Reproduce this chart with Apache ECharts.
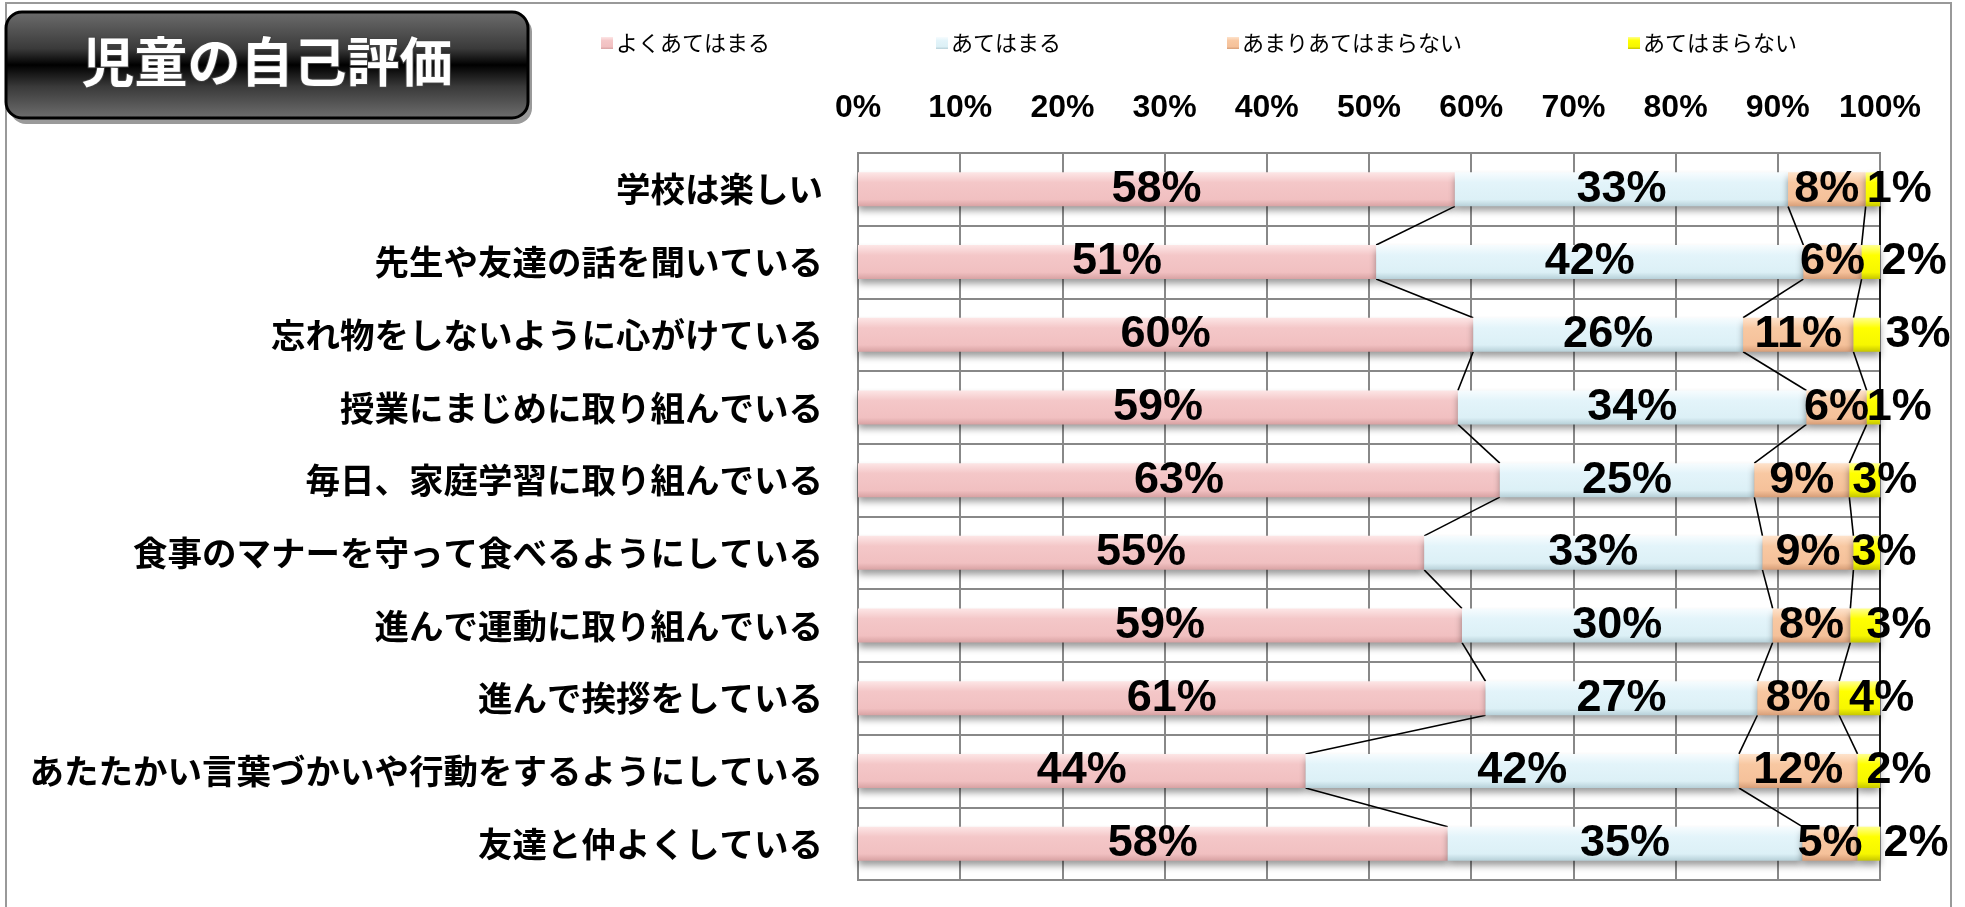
<!DOCTYPE html>
<html style="height: 100%">
<head>
<meta charset="utf-8">
</head>
<body style="height: 100%; margin: 0; background: #fff">
<div id="container" style="width: 1965px; height: 907px"></div>
<script src="https://cdn.jsdelivr.net/npm/echarts@6/dist/echarts.min.js"></script>
<script type="text/javascript">
var categories = [
  '学校は楽しい',
  '先生や友達の話を聞いている',
  '忘れ物をしないように心がけている',
  '授業にまじめに取り組んでいる',
  '毎日、家庭学習に取り組んでいる',
  '食事のマナーを守って食べるようにしている',
  '進んで運動に取り組んでいる',
  '進んで挨拶をしている',
  'あたたかい言葉づかいや行動をするようにしている',
  '友達と仲よくしている'
];
var seriesNames = ['よくあてはまる', 'あてはまる', 'あまりあてはまらない', 'あてはまらない'];
// percentages (labels show them rounded)
var veryTrue   = [58.4, 50.7, 60.2, 58.7, 62.8, 55.4, 59.1, 61.4, 43.8, 57.7];
var fairlyTrue = [32.6, 41.8, 26.4, 34.1, 24.9, 33.1, 30.4, 26.6, 42.4, 34.7];
var notReally  = [7.6, 5.7, 10.8, 5.9, 9.3, 8.9, 7.6, 8.0, 11.6, 5.4];
var notTrue    = [1.4, 1.8, 2.6, 1.3, 3.0, 2.6, 2.9, 4.0, 2.2, 2.2];
var xTicks = [0, 10, 20, 30, 40, 50, 60, 70, 80, 90, 100];

// where the small yellow labels sit (px right of the segment start)
var yellowShift = [1, 20, 32, 0, 3, -2, 16, 10, 9, 26];

var barWidth = 34;
var numFont = '"Liberation Sans", Arial, sans-serif';
var jpFont = '"Noto Sans CJK JP", sans-serif';

function grad(c0, c1, c2, c3) {
  return new echarts.graphic.LinearGradient(0, 0, 0, 1, [
    {offset: 0, color: c0},
    {offset: 0.3, color: c1},
    {offset: 0.8, color: c2},
    {offset: 1, color: c3}
  ]);
}
var colors = [
  grad('#fde6e6', '#f4c7c8', '#f1c0c1', '#d8a2a3'),
  grad('#f7fcfe', '#e3f4fa', '#dcf0f6', '#b7d0d8'),
  grad('#fee3cc', '#f8c8a2', '#f5c19a', '#d79e78'),
  grad('#ffff90', '#ffff00', '#f6f600', '#c6c600')
];

var dom = document.getElementById('container');
var chart = echarts.init(dom);

var values = [veryTrue, fairlyTrue, notReally, notTrue];

// cumulative ends of each segment for the series lines
var lineData = [];
var cum = categories.map(function () { return 0; });
values.forEach(function (arr) {
  cum = cum.map(function (c, i) { return c + arr[i]; });
  for (var k = 0; k < categories.length - 1; k++) {
    lineData.push([cum[k], k, cum[k + 1], k + 1]);
  }
});

var series = values.map(function (arr, s) {
  return {
    name: seriesNames[s],
    type: 'bar',
    stack: 'total',
    barWidth: barWidth,
    itemStyle: {
      color: colors[s],
      shadowColor: 'rgba(0,0,0,0.4)',
      shadowBlur: 7,
      shadowOffsetY: 5
    },
    label: {
      show: true,
      position: s === 3 ? 'insideLeft' : 'inside',
      distance: 0,
      color: '#000',
      fontFamily: numFont,
      fontWeight: 'bold',
      fontSize: 45,
      formatter: function (p) { return Math.round(p.value) + '%'; }
    },
    data: arr.map(function (v, i) {
      if (s !== 3) return v;
      return {value: v, label: {offset: [yellowShift[i], 0]}};
    })
  };
});

series.push({
  type: 'custom',
  silent: true,
  z: 1,
  encode: {x: [0, 2], y: [1, 3]},
  renderItem: function (params, api) {
    var p1 = api.coord([api.value(0), api.value(1)]);
    var p2 = api.coord([api.value(2), api.value(3)]);
    var h = barWidth / 2;
    return {
      type: 'line',
      shape: {x1: p1[0], y1: p1[1] + h, x2: p2[0], y2: p2[1] - h},
      style: {stroke: '#000', lineWidth: 1.6}
    };
  },
  data: lineData
});

var option = {
  animation: false,
  backgroundColor: '#fff',
  legend: {
    data: seriesNames,
    left: 596,
    top: 27,
    itemWidth: 12,
    itemHeight: 12,
    itemGap: 166,
    icon: 'rect',
    textStyle: {fontFamily: jpFont, fontSize: 22, color: '#000', padding: [0, 0, 0, -2]}
  },
  grid: {
    left: 858,
    right: 85,
    top: 153,
    bottom: 27,
    show: true,
    borderColor: '#888',
    borderWidth: 2
  },
  xAxis: {
    type: 'value',
    position: 'top',
    min: xTicks[0],
    max: xTicks[xTicks.length - 1],
    interval: xTicks[1] - xTicks[0],
    axisLine: {show: false},
    axisTick: {show: false},
    axisLabel: {
      formatter: '{value}%',
      color: '#000',
      fontFamily: numFont,
      fontWeight: 'bold',
      fontSize: 32,
      margin: 29
    },
    splitLine: {lineStyle: {color: '#888', width: 2}}
  },
  yAxis: {
    type: 'category',
    inverse: true,
    data: categories,
    axisLine: {lineStyle: {color: '#888', width: 2}},
    axisTick: {length: 8, lineStyle: {color: '#888', width: 2}},
    axisLabel: {
      color: '#000',
      fontFamily: jpFont,
      fontWeight: 'bold',
      fontSize: 34.5,
      margin: 35
    },
    splitLine: {show: true, lineStyle: {color: '#888', width: 2}}
  },
  graphic: [
    {
      type: 'rect',
      shape: {x: 6, y: 3, width: 1945, height: 930},
      style: {fill: 'none', stroke: '#999', lineWidth: 2},
      silent: true
    },
    {
      type: 'rect',
      shape: {x: 10, y: 16, width: 522, height: 108, r: 16},
      style: {fill: '#9a9a9a'},
      silent: true
    },
    {
      type: 'rect',
      shape: {x: 6, y: 12, width: 522, height: 106, r: 16},
      style: {
        fill: new echarts.graphic.LinearGradient(0, 0, 0, 1, [
          {offset: 0, color: '#6e6e6e'},
          {offset: 0.35, color: '#3a3a3a'},
          {offset: 0.5, color: '#000'},
          {offset: 0.7, color: '#3a3a3a'},
          {offset: 1, color: '#707070'}
        ]),
        stroke: '#000',
        lineWidth: 3
      },
      silent: true
    },
    {
      type: 'text',
      x: 267,
      y: 62,
      style: {
        text: '児童の自己評価',
        fill: '#fff',
        stroke: '#444',
        lineWidth: 2,
        font: 'bold 53px "Noto Sans CJK JP", sans-serif',
        textAlign: 'center',
        textVerticalAlign: 'middle',
        shadowColor: '#888',
        shadowOffsetX: 3,
        shadowOffsetY: 3,
        shadowBlur: 0
      },
      silent: true
    }
  ],
  series: series
};

chart.setOption(option);
</script>
</body>
</html>
